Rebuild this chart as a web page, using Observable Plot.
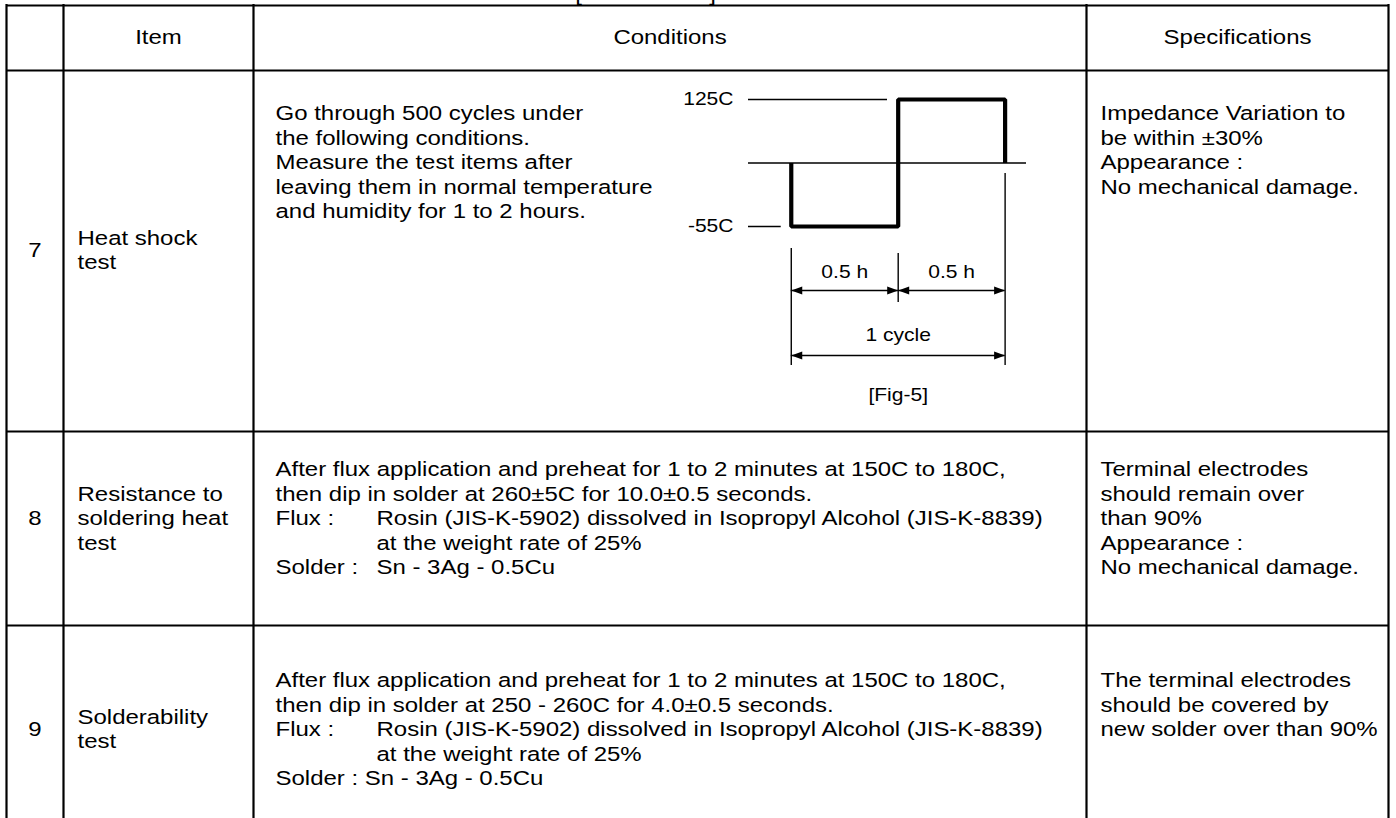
<!DOCTYPE html>
<html><head><meta charset="utf-8">
<script src="https://cdn.jsdelivr.net/npm/d3@7"></script>
<script src="https://cdn.jsdelivr.net/npm/@observablehq/plot@0.6"></script>
<style>
html,body{margin:0;padding:0;background:#fff;overflow:hidden;}
#wrap{position:relative;width:1396px;height:818px;background:#fff;}
#wrap svg{position:absolute;}
</style></head><body><div id="wrap"></div>
<script>
// ---------------- data ----------------
const headers = ["Item", "Conditions", "Specifications"];
const itemNumbers = ["7", "8", "9"];
const itemNames = [["Heat shock", "test"], ["Resistance to", "soldering heat", "test"], ["Solderability", "test"]];
const conditions7 = [
  "Go through 500 cycles under",
  "the following conditions.",
  "Measure the test items after",
  "leaving them in normal temperature",
  "and humidity for 1 to 2 hours."
];
const conditions8 = [
  "After flux application and preheat for 1 to 2 minutes at 150C to 180C,",
  "then dip in solder at 260\u00b15C for 10.0\u00b10.5 seconds.",
  ["Flux :", "Rosin (JIS-K-5902) dissolved in Isopropyl Alcohol (JIS-K-8839)"],
  ["", "at the weight rate of 25%"],
  ["Solder :", "Sn - 3Ag - 0.5Cu"]
];
const conditions9 = [
  "After flux application and preheat for 1 to 2 minutes at 150C to 180C,",
  "then dip in solder at 250 - 260C for 4.0\u00b10.5 seconds.",
  ["Flux :", "Rosin (JIS-K-5902) dissolved in Isopropyl Alcohol (JIS-K-8839)"],
  ["", "at the weight rate of 25%"],
  "Solder : Sn - 3Ag - 0.5Cu"
];
const specs7 = ["Impedance Variation to", "be within \u00b130%", "Appearance :", "No mechanical damage."];
const specs8 = ["Terminal electrodes", "should remain over", "than 90%", "Appearance :", "No mechanical damage."];
const specs9 = ["The terminal electrodes", "should be covered by", "new solder over than 90%"];

// heat-shock profile (hours, degrees C); 35 = the middle reference level
const tempLevels = [125, -55];
const tempLabels = ["125C", "-55C"];
const waveT = [0, 0, 0.5, 0.5, 1, 1];
const waveC = [35, -55, -55, 125, 125, 35];
const phaseFrom = [0, 0.5];
const phaseTo = [0.5, 1];
const phaseLabels = ["0.5 h", "0.5 h"];
const cycleLabel = "1 cycle";
const figCaption = "[Fig-5]";

// ---------------- layout ----------------
const W = 1396, H = 818;
const colX = [6, 63, 253, 1086, 1388];
const rowY = [5, 70, 431, 625];
const gap = 24.5;
const pad = {item: 77, cond: 275, tab: 376, spec: 1100};
const headerY = 37;
const rowStart = [113, 469, 680];
const rowMid = [250, 518, 729];
const FS = 20.5, SX = 1.17, FIGFS = 18;
const FONT = "Liberation Sans, Arial, Helvetica, sans-serif";
const LW = 2.2;
const figBox = {left: 640, top: 75, width: 420, height: 200};

// ---------------- figure (own scales: hours × °C) ----------------
const wave = waveT.map((t, i) => ({t, C: waveC[i]}));
const refLines = [
  {C: tempLevels[0], x1: -0.2, x2: 0.45},
  {C: tempLevels[1], x1: -0.2, x2: -0.047},
  {C: 35, x1: -0.2, x2: 1.1}
];
const tempText = tempLevels.map((C, i) => ({C, label: tempLabels[i]}));

const fig = Plot.plot({
  width: figBox.width, height: figBox.height,
  marginLeft: 108, marginRight: 34, marginTop: 99 - figBox.top, marginBottom: figBox.top + figBox.height - 226,
  x: {domain: [-0.2, 1.1], axis: null},
  y: {domain: [-55, 125], axis: null},
  style: {background: "transparent", overflow: "visible"},
  marks: [
    Plot.ruleY(refLines, {y: "C", x1: "x1", x2: "x2", stroke: "#000", strokeWidth: 1.4}),
    Plot.line(wave, {x: "t", y: "C", stroke: "#000", strokeWidth: 4.2, strokeLinejoin: "miter", strokeLinecap: "butt"}),
    Plot.text(tempText, {x: () => -0.2, y: "C", text: "label", textAnchor: "end", dx: -15, fontSize: FIGFS, fontFamily: FONT, fill: "#000"})
  ]
});
const fx = fig.scale("x");
const figX = t => figBox.left + fx.apply(t);

// ---------------- table texts ----------------
const startTexts = [], middleTexts = [];
headers.forEach((h, i) => middleTexts.push({x: (colX[i + 1] + colX[i + 2]) / 2, y: headerY, text: h}));
itemNumbers.forEach((n, i) => middleTexts.push({x: (colX[0] + colX[1]) / 2, y: rowMid[i], text: n}));
itemNames.forEach((lines, i) => lines.forEach((s, j) =>
  startTexts.push({x: pad.item, y: rowMid[i] + (j - (lines.length - 1) / 2) * gap, text: s})));
[conditions7, conditions8, conditions9].forEach((lines, i) => lines.forEach((p, j) => {
  const parts = typeof p === "string" ? [p] : p;
  const y = rowStart[i] + j * gap;
  if (parts.length === 1) startTexts.push({x: pad.cond, y, text: parts[0]});
  else {
    if (parts[0]) startTexts.push({x: pad.cond, y, text: parts[0]});
    startTexts.push({x: pad.tab, y, text: parts[1]});
  }
}));
[specs7, specs8, specs9].forEach((lines, i) => lines.forEach((s, j) =>
  startTexts.push({x: pad.spec, y: rowStart[i] + j * gap, text: s})));

// ---------------- dimension annotation (x from figure scale) ----------------
const dimVerticals = [
  {x: figX(0), y1: 248, y2: 365},
  {x: figX(0.5), y1: 253, y2: 302},
  {x: figX(1), y1: 173, y2: 365}
];
const dimLines = [];
phaseFrom.forEach((a, i) => dimLines.push({x1: figX(a), x2: figX(phaseTo[i]), y: 290}));
dimLines.push({x1: figX(0), x2: figX(1), y: 355});
const heads = [];
dimLines.forEach(d => { heads.push({x: d.x1, y: d.y, dir: "L"}); heads.push({x: d.x2, y: d.y, dir: "R"}); });
const figTexts = phaseLabels.map((l, i) => ({x: figX((phaseFrom[i] + phaseTo[i]) / 2), y: 272, text: l}));
figTexts.push({x: figX(0.5), y: 335, text: cycleLabel});
figTexts.push({x: figX(0.5), y: 395, text: figCaption});

const arrowR = {draw(ctx) { ctx.moveTo(0, 0); ctx.lineTo(-11, -4); ctx.lineTo(-11, 4); ctx.closePath(); }};
const arrowL = {draw(ctx) { ctx.moveTo(0, 0); ctx.lineTo(11, -4); ctx.lineTo(11, 4); ctx.closePath(); }};

const main = Plot.plot({
  width: W, height: H, margin: 0,
  x: {type: "linear", domain: [0, W], range: [0, W], axis: null},
  y: {type: "linear", domain: [0, H], range: [0, H], axis: null},
  style: {background: "#fff"},
  marks: [
    Plot.ruleX(colX, {x: d => d, y1: () => rowY[0] - LW / 2, y2: () => H + 5, stroke: "#000", strokeWidth: LW}),
    Plot.ruleY(rowY, {y: d => d, x1: () => colX[0], x2: () => colX[4], stroke: "#000", strokeWidth: LW}),
    Plot.text(["[", "]"], {x: (d, i) => [578, 712][i], y: () => 0, text: d => d, lineAnchor: "bottom", textAnchor: "middle", fontSize: FS, fontFamily: FONT, fill: "#000"}),
    Plot.text(middleTexts, {x: "x", y: "y", text: "text", textAnchor: "middle", fontSize: FS, fontFamily: FONT, fill: "#000"}),
    Plot.text(startTexts, {x: "x", y: "y", text: "text", textAnchor: "start", fontSize: FS, fontFamily: FONT, fill: "#000"}),
    Plot.ruleX(dimVerticals, {x: "x", y1: "y1", y2: "y2", stroke: "#000", strokeWidth: 1.4}),
    Plot.ruleY(dimLines, {y: "y", x1: "x1", x2: "x2", stroke: "#000", strokeWidth: 1.4}),
    Plot.dot(heads.filter(d => d.dir === "R"), {x: "x", y: "y", symbol: arrowR, fill: "#000", stroke: "none", r: 5}),
    Plot.dot(heads.filter(d => d.dir === "L"), {x: "x", y: "y", symbol: arrowL, fill: "#000", stroke: "none", r: 5}),
    Plot.text(figTexts, {x: "x", y: "y", text: "text", textAnchor: "middle", fontSize: FIGFS, fontFamily: FONT, fill: "#000"})
  ]
});

const wrap = document.getElementById("wrap");
main.style.left = "0px"; main.style.top = "0px";
fig.style.left = figBox.left + "px"; fig.style.top = figBox.top + "px";
wrap.appendChild(main);
wrap.appendChild(fig);

// widen glyphs horizontally (reference text is wider than tall)
[main, fig].forEach(svg => d3.select(svg).selectAll("text").each(function () {
  const t = this.getAttribute("transform") || "";
  this.setAttribute("transform", t + ` scale(${SX},1)`);
}));
</script>
</body></html>
